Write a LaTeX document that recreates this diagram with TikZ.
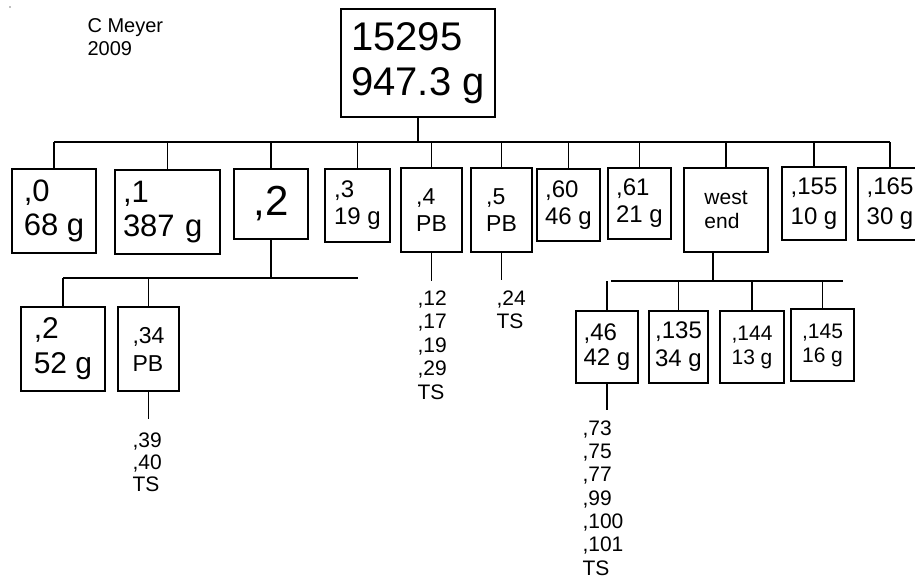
\documentclass[tikz,border=0pt]{standalone}
\usepackage{fontspec}
\setmainfont{Liberation Sans}
\begin{document}
\begin{tikzpicture}[x=1pt,y=-1pt,line width=1.1pt,
  box/.style={draw,inner sep=0pt,align=left},
  txt/.style 2 args={font=\fontsize{#1}{#2}\selectfont},
  col/.style={anchor=north west,inner xsep=0pt,align=left,font=\fontsize{21}{23}\selectfont}]
\useasboundingbox (0,0) rectangle (915,581);
\fill[gray] (10,7) circle (0.8);
\node[anchor=north west,inner sep=0pt,align=left,txt={20}{23}] (author) at (87,18) {C Meyer\\2009};

% root
\node[box,txt={40}{45},minimum width=154,minimum height=108] (top) at (418,63) {15295\\947.3 g};

% first row
\node[box,txt={31}{34},minimum width=84,minimum height=84] (n0) at (54,211) {,0\\68 g};
\node[box,txt={31}{34},text width=89,inner xsep=8,minimum height=84] (n1) at (167.5,212) {,1\\387 g};
\node[box,txt={42}{45},minimum width=74,minimum height=70] (n2) at (271,204) {,2};
\node[box,txt={24}{27},minimum width=65,minimum height=73] (n3) at (357.5,205.5) {,3\\19 g};
\node[box,txt={23}{27},minimum width=61,minimum height=84] (n4) at (431.5,210) {,4\\PB};
\node[box,txt={23}{27},minimum width=61,minimum height=84] (n5) at (501.5,210) {,5\\PB};
\node[box,txt={24}{27},minimum width=63,minimum height=72] (n60) at (568.5,205) {,60\\46 g};
\node[box,txt={24}{27},minimum width=63,minimum height=71] (n61) at (639.5,203.5) {,61\\21 g};
\node[box,txt={21}{24},minimum width=84,minimum height=84] (west) at (726,210) {west\\end};
\node[box,txt={24}{30},minimum width=64,minimum height=73] (n155) at (814,203.5) {,155\\10 g};
\node[box,txt={24}{30},minimum width=64,minimum height=72] (n165) at (890,204) {,165\\30 g};

\coordinate (busL) at (54,142);
\coordinate (busR) at (890,142);
\draw (busL) -- (busR);
\draw (top.south) -- (top.south |- busL);
\foreach \c in {n0,n1,n2,n3,n4,n5,n60,n61,west,n155,n165}
  \draw (\c.north) -- (\c.north |- busL);

% under ,2
\coordinate (bus2L) at (63,278);
\coordinate (bus2R) at (358,278);
\draw (n2.south) -- (n2.south |- bus2L);
\draw (bus2L) -- (bus2R);
\node[box,txt={30}{35},minimum width=84,minimum height=84] (m2) at (63,349) {,2\\52 g};
\node[box,txt={23}{28},minimum width=61,minimum height=84] (m34) at (148.5,349) {,34\\PB};
\foreach \c in {m2,m34}
  \draw (\c.north) -- (\c.north |- bus2L);
\node[col,inner ysep=13pt,font=\fontsize{21}{22}\selectfont] (l34) at (132,419) {,39\\,40\\TS};
\draw (m34.south) -- (m34.south |- l34.north);

% lists under ,4 and ,5
\node[col,inner ysep=9pt,font=\fontsize{21}{23.5}\selectfont] (l4) at (417,281) {,12\\,17\\,19\\,29\\TS};
\draw (n4.south) -- (n4.south |- l4.north);
\node[col,inner ysep=10pt] (l5) at (496,280) {,24\\TS};
\draw (n5.south) -- (n5.south |- l5.north);

% west end
\coordinate (bus3L) at (611,281);
\coordinate (bus3R) at (843,281);
\draw ([xshift=-13pt]west.south) -- ([xshift=-13pt]west.south |- bus3L);
\draw (bus3L) -- (bus3R);
\node[box,txt={24}{25},minimum width=62,minimum height=72] (w46) at (607,347) {,46\\42 g};
\node[box,txt={24}{28},minimum width=59,minimum height=72] (w135) at (678.5,347) {,135\\34 g};
\node[box,txt={21}{24},minimum width=64,minimum height=72] (w144) at (752,347) {,144\\13 g};
\node[box,txt={21}{24},minimum width=63,minimum height=72] (w145) at (822.5,345) {,145\\16 g};
\foreach \c in {w46,w135,w144,w145}
  \draw (\c.north) -- (\c.north |- bus3L);
\node[col,inner ysep=10pt,font=\fontsize{21}{23.3}\selectfont] (l46) at (582,410) {,73\\,75\\,77\\,99\\,100\\,101\\TS};
\draw (w46.south) -- (w46.south |- l46.north);
\end{tikzpicture}
\end{document}
